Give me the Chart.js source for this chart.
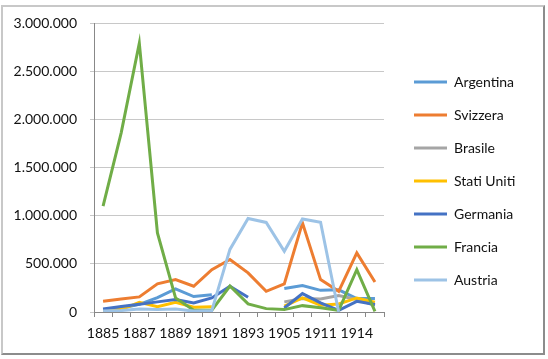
<!DOCTYPE html>
<html>
<head>
<meta charset="utf-8">
<script src="https://cdn.jsdelivr.net/npm/chart.js@4"></script>
<style>
  body { margin: 0; background: #fff; }
  #wrap { position: relative; width: 548px; height: 359px; }
  #chart { position: absolute; left: 0; top: 0; }
  #frame {
    position: absolute; left: 1px; top: 5px; width: 540px; height: 346px;
    border: 2px solid #8c8c8c; border-left-color: #c8c8c8; border-top-color: #c8c8c8;
    pointer-events: none;
  }
</style>
</head>
<body>
<div id="wrap">
  <canvas id="chart" width="548" height="359"></canvas>
  <div id="frame"></div>
</div>
<script>
const years = ["1885", "1886", "1887", "1888", "1889", "1890", "1891", "1892",
  "1893", "1894", "1905", "1906", "1911", "1912", "1914", "1915"];

const argentina = [20000, 40000, 80000, 150000, 240000, 160000, 180000, null,
  null, null, 245000, 275000, 225000, 230000, 140000, 140000];
const svizzera = [111000, 135000, 157000, 292000, 336000, 267000, 440000, 545000,
  406000, 215000, 292000, 925000, 336000, 215000, 613000, 312000];
const brasile = [null, null, null, null, null, null, null, null,
  null, null, 105000, 140000, 135000, 170000, 130000, 70000];
const statiUniti = [7000, 25000, 100000, 55000, 100000, 50000, 55000, null,
  null, null, 60000, 146000, 70000, 84000, 146000, 101000];
const germania = [32000, 56000, 80000, 105000, 129000, 94000, 146000, 267000,
  153000, null, 42000, 191000, 94000, 18000, 111000, 77000];
const francia = [1100000, 1860000, 2790000, 821000, 146000, 18000, 18000, 270000,
  84000, 35000, 25000, 66000, 43000, 18000, 440000, 7000];
const austria = [10000, 15000, 30000, 25000, 30000, 10000, 15000, 650000,
  970000, 930000, 630000, 966000, 931000, 0, null, null];

const yTicks = [0, 500000, 1000000, 1500000, 2000000, 2500000, 3000000];

const series = [
  ["Argentina", argentina, "#5B9BD5"],
  ["Svizzera", svizzera, "#ED7D31"],
  ["Brasile", brasile, "#A5A5A5"],
  ["Stati Uniti", statiUniti, "#FFC000"],
  ["Germania", germania, "#4472C4"],
  ["Francia", francia, "#70AD47"],
  ["Austria", austria, "#9DC3E6"]
];

function fmt(v) {
  return String(v).replace(/\B(?=(\d{3})+(?!\d))/g, ".");
}

const font = { family: "Lato", size: 14 };

// push the legend a bit away from the plot area
const legendShift = {
  id: "legendShift",
  afterLayout(c) {
    c.legend.left += 11;
    c.legend.right += 11;
  }
};

const ctx = document.getElementById("chart").getContext("2d");

let chart = new Chart(ctx, {
  type: "line",
  data: {
    labels: years,
    datasets: series.map((s, i) => ({
      label: s[0],
      data: s[1],
      borderColor: s[2],
      backgroundColor: s[2],
      borderWidth: 3,
      pointRadius: 0,
      tension: 0,
      spanGaps: false,
      order: series.length - i
    }))
  },
  options: {
    responsive: false,
    animation: false,
    layout: { padding: { top: 23, bottom: 20, left: 0, right: 36 } },
    plugins: {
      tooltip: { enabled: false },
      legend: {
        position: "right",
        align: "center",
        labels: {
          font: font,
          color: "#111",
          boxWidth: 33,
          boxHeight: 3,
          padding: 19,
          sort: (a, b) => a.datasetIndex - b.datasetIndex,
          generateLabels: (c) => {
            let items = Chart.defaults.plugins.legend.labels.generateLabels(c);
            items.forEach(it => { it.lineWidth = 0; it.fillStyle = it.strokeStyle; });
            return items;
          }
        }
      }
    },
    scales: {
      x: {
        offset: true,
        grid: { display: true, drawOnChartArea: false, offset: true, tickLength: 5, color: "#888" },
        border: { color: "#888" },
        ticks: {
          font: font, color: "#111", padding: 8,
          autoSkip: false, maxRotation: 0, minRotation: 0,
          callback: (v, i) => i % 2 === 0 ? years[i] : ""
        },
        afterFit: (s) => { s.height = 27; }
      },
      y: {
        min: yTicks[0],
        max: yTicks[yTicks.length - 1],
        afterBuildTicks: (s) => { s.ticks = yTicks.map(v => ({ value: v })); },
        grid: { color: "#c8c8c8", tickLength: 4 },
        border: { color: "#888" },
        ticks: { font: font, color: "#111", padding: 13, callback: (v) => fmt(v) },
        afterFit: (s) => { s.width = 94; }
      }
    }
  },
  plugins: [legendShift]
});
</script>
</body>
</html>
